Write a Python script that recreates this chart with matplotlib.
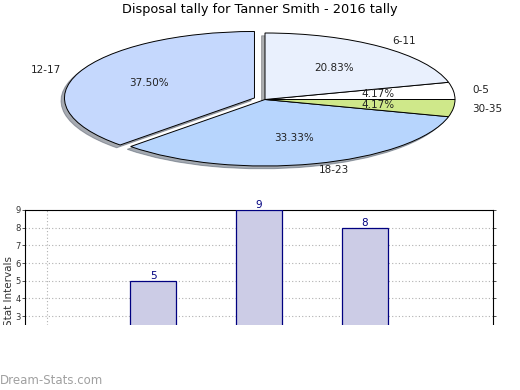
import matplotlib.pyplot as plt
import matplotlib.patches as mpatches

# pie data
age_groups = ["0-5", "6-11", "12-17", "18-23", "30-35"]
games = [1, 5, 9, 8, 1]
pie_colors = ["#ffffff", "#e9f0fd", "#c5d8fd", "#b7d5fd", "#cfe88a"]
explode = [0, 0, 0.06, 0, 0]

# bar data (same groups, bottom of the chart is cut off)
bar_values = [1, 5, 9, 8, 1]

fig = plt.figure(figsize=(5.2, 3.9), dpi=100)
W, H = 520, 390

def px_axes(left, top, width, height):
    return fig.add_axes([left / W, 1 - (top + height) / H, width / W, height / H])

# pie, squashed into an ellipse
cx, cy, rx, ry = 265, 99.5, 190, 66.5
ax1 = px_axes(cx - 1.2 * rx, cy - 1.2 * ry, 2.4 * rx, 2.4 * ry)
wedges, texts, autotexts = ax1.pie(
    games, labels=age_groups, colors=pie_colors, explode=explode,
    autopct="%.2f%%", startangle=0,
    shadow=dict(ox=-0.013, oy=-0.03, shade=0.6),
    wedgeprops=dict(edgecolor="black", linewidth=0.7),
    textprops=dict(fontsize=7.5, color="#222222"),
)
ax1.set_aspect("auto")
ax1.set_xlim(-1.2, 1.2)
ax1.set_ylim(-1.2, 1.2)
fig.text(0.5, 1 - 10 / H, "Disposal tally for Tanner Smith - 2016 tally",
         ha="center", va="center", fontsize=9.3)

# bar chart
ax2 = px_axes(25, 210, 468, 115)
x = range(len(bar_values))
bars = ax2.bar(x, bar_values, width=0.44, color="#ccccE6", edgecolor="#000080",
               linewidth=0.9, zorder=3)
for xi, v in zip(x, bar_values):
    ax2.text(xi, v, str(v), ha="center", va="bottom", fontsize=7.5,
             color="#000080", zorder=4)
ax2.set_xlim(-0.21, 4.21)
ax2.set_ylim(2.5, 9)
ax2.set_yticks(range(3, 10))
ax2.set_xticks([0])
ax2.tick_params(axis="x", length=0, labelbottom=False)
ax2.tick_params(axis="y", labelsize=6, length=2, width=0.6, colors="#333333",
                pad=1, right=True)
ax2.grid(True, linestyle=(0, (1, 2)), color="#b0b0b0", linewidth=0.8, zorder=0)
ax2.spines["bottom"].set_visible(False)
for s in ["left", "right", "top"]:
    ax2.spines[s].set_linewidth(0.8)
ax2.set_ylabel("Stat Intervals", fontsize=7.5, color="#333333")
ax2.yaxis.set_label_coords(-0.024, 0.3)

# chart image is cropped below the plot area
fig.patches.append(mpatches.Rectangle((0, 0), 1, (H - 325) / H,
                                      transform=fig.transFigure,
                                      facecolor="white", edgecolor="none",
                                      zorder=10))
fig.text(0, 1 - 380 / H, "Dream-Stats.com", ha="left", va="center",
         fontsize=8.5, color="#a0a0a0", zorder=11)

fig.savefig("out.png", dpi=100)
